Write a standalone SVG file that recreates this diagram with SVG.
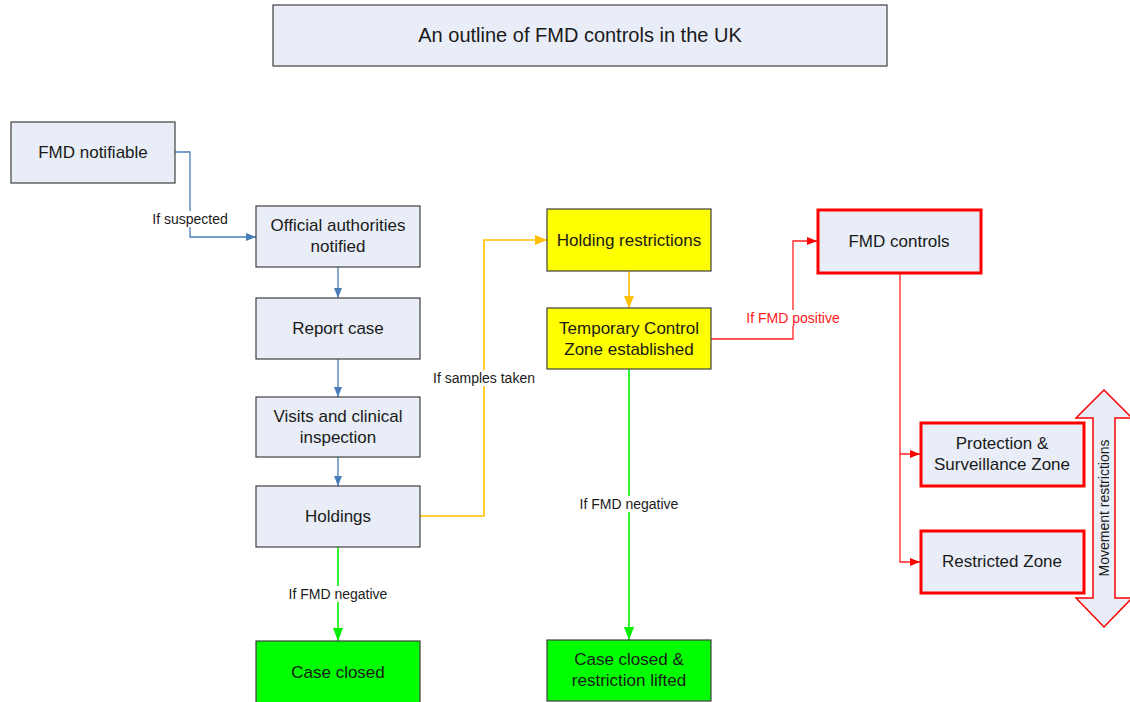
<svg xmlns="http://www.w3.org/2000/svg" width="1130" height="702" viewBox="0 0 1130 702">
  <style>
    text { font-family: "Liberation Sans", Arial, sans-serif; fill: #1a1a1a; }
    .box { fill: #e8edf7; stroke: #404040; stroke-width: 1.2; }
    .yel { fill: #ffff00; stroke: #404040; stroke-width: 1.2; }
    .grn { fill: #00ff00; stroke: #404040; stroke-width: 1.2; }
    .red { fill: #e8edf7; stroke: #ff0000; stroke-width: 3; }
    .t { font-size: 17px; text-anchor: middle; }
    .title { font-size: 20px; text-anchor: middle; }
    .lbl { font-size: 14px; text-anchor: middle; }
    .bg { fill: #ffffff; }
    .c-blue { stroke: #4a7ebb; stroke-width: 1.3; fill: none; }
    .c-yel { stroke: #ffc000; stroke-width: 1.6; fill: none; }
    .c-red { stroke: #ff2020; stroke-width: 1.3; fill: none; }
    .c-grn { stroke: #00ee00; stroke-width: 1.6; fill: none; }
  </style>
  <defs>
    <marker id="ah-blue" viewBox="0 0 10 8" refX="10" refY="4" markerWidth="10" markerHeight="8" markerUnits="userSpaceOnUse" orient="auto">
      <path d="M0,0 L10,4 L0,8 Z" fill="#4a7ebb"/>
    </marker>
    <marker id="ah-yel" viewBox="0 0 12 10" refX="12" refY="5" markerWidth="12" markerHeight="10" markerUnits="userSpaceOnUse" orient="auto">
      <path d="M0,0 L12,5 L0,10 Z" fill="#ffc000"/>
    </marker>
    <marker id="ah-red" viewBox="0 0 10 8" refX="10" refY="4" markerWidth="10" markerHeight="8" markerUnits="userSpaceOnUse" orient="auto">
      <path d="M0,0 L10,4 L0,8 Z" fill="#ff0000"/>
    </marker>
    <marker id="ah-grn" viewBox="0 0 13 10" refX="13" refY="5" markerWidth="13" markerHeight="10" markerUnits="userSpaceOnUse" orient="auto">
      <path d="M0,0 L13,5 L0,10 Z" fill="#00ee00"/>
    </marker>
  </defs>

  <rect width="1130" height="702" fill="#ffffff"/>

  <g id="title">
    <rect class="box" x="273" y="5" width="614" height="61"/>
    <text class="title" x="580" y="42">An outline of FMD controls in the UK</text>
  </g>

  <!-- connectors -->
  <g id="connectors">
    <polyline class="c-blue" points="175,152 190,152 190,237 256,237" marker-end="url(#ah-blue)"/>
    <line class="c-blue" x1="338" y1="267" x2="338" y2="298" marker-end="url(#ah-blue)"/>
    <line class="c-blue" x1="338" y1="359" x2="338" y2="397" marker-end="url(#ah-blue)"/>
    <line class="c-blue" x1="338" y1="457" x2="338" y2="486" marker-end="url(#ah-blue)"/>
    <polyline class="c-yel" points="420,516 484,516 484,240 547,240" marker-end="url(#ah-yel)"/>
    <line class="c-yel" x1="629" y1="271" x2="629" y2="308" marker-end="url(#ah-yel)"/>
    <polyline class="c-red" points="711,339 793,339 793,241 817,241" marker-end="url(#ah-red)"/>
    <line class="c-grn" x1="629" y1="369" x2="629" y2="640" marker-end="url(#ah-grn)"/>
    <line class="c-grn" x1="338" y1="547" x2="338" y2="641" marker-end="url(#ah-grn)"/>
    <polyline class="c-red" points="900,273 900,454 920,454" marker-end="url(#ah-red)"/>
    <polyline class="c-red" points="900,454 900,562 920,562" marker-end="url(#ah-red)"/>

    <rect class="bg" x="147" y="211" width="86" height="16"/>
    <text class="lbl" x="190" y="224">If suspected</text>
    <rect class="bg" x="428" y="370" width="112" height="16"/>
    <text class="lbl" x="484" y="383">If samples taken</text>
    <rect class="bg" x="741" y="310" width="104" height="16"/>
    <text class="lbl" x="793" y="323" style="fill:#ff2020">If FMD positive</text>
    <rect class="bg" x="575" y="496" width="108" height="16"/>
    <text class="lbl" x="629" y="509">If FMD negative</text>
    <rect class="bg" x="284" y="586" width="108" height="16"/>
    <text class="lbl" x="338" y="599">If FMD negative</text>
  </g>

  <g id="fmd-notifiable">
    <rect class="box" x="11" y="122" width="164" height="61"/>
    <text class="t" x="93" y="158">FMD notifiable</text>
  </g>
  <g id="official-authorities">
    <rect class="box" x="256" y="206" width="164" height="61"/>
    <text class="t" x="338" y="231">Official authorities</text>
    <text class="t" x="338" y="252">notified</text>
  </g>
  <g id="report-case">
    <rect class="box" x="256" y="298" width="164" height="61"/>
    <text class="t" x="338" y="334">Report case</text>
  </g>
  <g id="visits">
    <rect class="box" x="256" y="397" width="164" height="60"/>
    <text class="t" x="338" y="422">Visits and clinical</text>
    <text class="t" x="338" y="443">inspection</text>
  </g>
  <g id="holdings">
    <rect class="box" x="256" y="486" width="164" height="61"/>
    <text class="t" x="338" y="522">Holdings</text>
  </g>
  <g id="case-closed">
    <rect class="grn" x="256" y="641" width="164" height="70"/>
    <text class="t" x="338" y="678">Case closed</text>
  </g>
  <g id="holding-restrictions">
    <rect class="yel" x="547" y="209" width="164" height="62"/>
    <text class="t" x="629" y="246">Holding restrictions</text>
  </g>
  <g id="temporary-control-zone">
    <rect class="yel" x="547" y="308" width="164" height="61"/>
    <text class="t" x="629" y="334">Temporary Control</text>
    <text class="t" x="629" y="355">Zone established</text>
  </g>
  <g id="case-closed-lifted">
    <rect class="grn" x="547" y="640" width="164" height="61"/>
    <text class="t" x="629" y="665">Case closed &amp;</text>
    <text class="t" x="629" y="686">restriction lifted</text>
  </g>
  <g id="fmd-controls">
    <rect class="red" x="818" y="210" width="163" height="63"/>
    <text class="t" x="899" y="247">FMD controls</text>
  </g>
  <g id="protection-surveillance">
    <rect class="red" x="921" y="423" width="163" height="63"/>
    <text class="t" x="1002" y="449">Protection &amp;</text>
    <text class="t" x="1002" y="470">Surveillance Zone</text>
  </g>
  <g id="restricted-zone">
    <rect class="red" x="921" y="531" width="163" height="62"/>
    <text class="t" x="1002" y="567">Restricted Zone</text>
  </g>
  <g id="movement-restrictions">
    <path d="M1104,390 L1132,418 L1115,418 L1115,598 L1132,598 L1104,627 L1076,598 L1093,598 L1093,418 L1076,418 Z" fill="#e8edf7" stroke="#ff0000" stroke-width="1.5"/>
    <text class="lbl" transform="translate(1109,508) rotate(-90)">Movement restrictions</text>
  </g>
</svg>
